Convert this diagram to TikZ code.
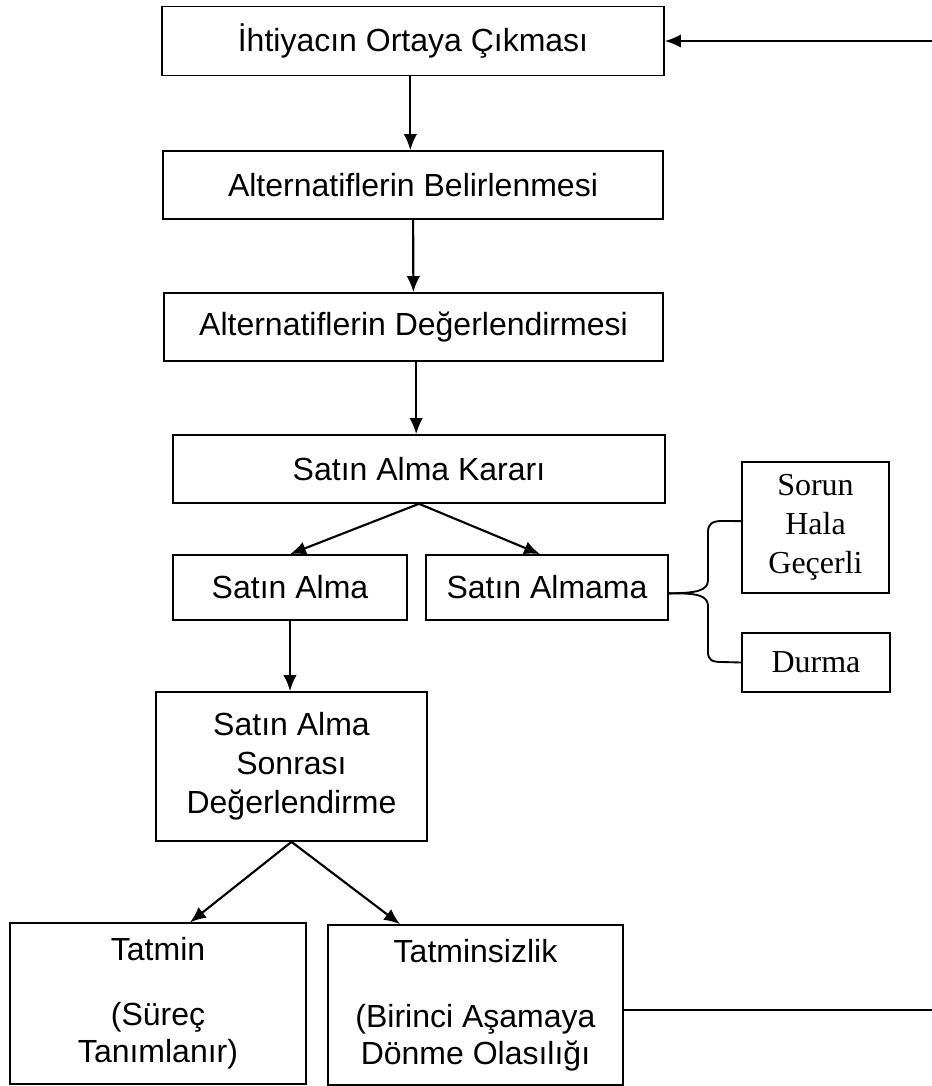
\documentclass[tikz,border=0pt]{standalone}
\usepackage{fontspec}
\setmainfont{Liberation Sans}
\newfontfamily\serifbox{Liberation Serif}
\usetikzlibrary{arrows.meta,calc}
\tikzset{
  stage/.style={draw, rectangle, align=center, inner sep=0pt, line width=0.6pt,
    font=\fontsize{12pt}{14.6pt}\selectfont},
  outcome/.style={stage, font=\serifbox\fontsize{12pt}{14.6pt}\selectfont},
  flow/.style={-{Latex[length=6pt,width=5pt]}, line width=0.8pt},
}

\begin{document}
\begin{tikzpicture}[x=0.375pt,y=-0.375pt]
\useasboundingbox (0,0) rectangle (932,1086);

\node[stage, minimum width=188.3pt, minimum height=25.9pt] (need) at (413,41) {İhtiyacın Ortaya Çıkması};
\node[stage, minimum width=187.5pt, minimum height=25.5pt] (alt) at (413,185) {Alternatiflerin Belirlenmesi};
\node[stage, minimum width=187pt, minimum height=25.5pt] (eval) at (413.5,327) {Alternatiflerin Değerlendirmesi};
\node[stage, minimum width=184.5pt, minimum height=25.5pt] (karar) at (419,469) {Satın Alma Kararı};

\node[stage, minimum width=87.8pt, minimum height=24.4pt] (alma) at (290,587.5) {Satın Alma};
\node[stage, minimum width=90.8pt, minimum height=24.4pt] (almama) at (547,587.5) {Satın Almama};

\node[outcome, minimum width=55.1pt, minimum height=49.1pt] (sorun) at (815.5,527.5) {Sorun\\Hala\\Geçerli};
\node[outcome, minimum width=55.5pt, minimum height=22.1pt] (durma) at (816,662.5) {Durma};

\node[stage, minimum width=101.6pt, minimum height=55.9pt] (sonra) at (291.5,766.5) {Satın Alma\\Sonrası\\Değerlendirme};

\node[stage, minimum width=111pt, minimum height=60.2pt, font=\fontsize{12pt}{13.8pt}\selectfont] (tatmin) at (158,1003.5) {Tatmin\\[10.6pt](Süreç\\Tanımlanır)};
\node[stage, minimum width=110.6pt, minimum height=60pt, font=\fontsize{12pt}{13.8pt}\selectfont] (tatminsiz) at (475.5,1005) {Tatminsizlik\\[10.6pt](Birinci Aşamaya\\Dönme Olasılığı};

\coordinate (back) at (932,41);
\coordinate (loop) at (932,1010);

\draw[flow] ([xshift=-1pt]need.south) -- ([xshift=-1pt]alt.north);
\draw[flow] (alt) -- (eval);
\draw[flow] ([xshift=1pt]eval.south) -- ([xshift=1pt]eval.south |- karar.north);
\draw[flow] (karar.south) -- (alma.north);
\draw[flow] (karar.south) -- ([xshift=-2.6pt]almama.north);
\draw[flow] (alma.south) -- (alma.south |- sonra.north);
\draw[flow] (sonra.south) -- ([xshift=12pt]tatmin.north);
\draw[flow] (sonra.south) -- ([xshift=-28.3pt]tatminsiz.north);

% geri donus
\draw[flow] (back) -- (need.east);
\draw[line width=0.6pt] (tatminsiz.east |- loop) -- (loop);

% kume parantezi
\draw[line width=0.7pt] ([yshift=-2.2pt]almama.east) .. controls (696,593) and (708,591) .. (708,580)
  -- (708,532) .. controls (708,524) and (712,521) .. (722,521) -- ([yshift=2.4pt]sorun.west);
\draw[line width=0.7pt] ([yshift=-2.2pt]almama.east) .. controls (696,593) and (708,595) .. (708,606)
  -- (708,652) .. controls (708,660) and (712,662) .. (722,662) -- (durma.west);
\end{tikzpicture}
\end{document}
